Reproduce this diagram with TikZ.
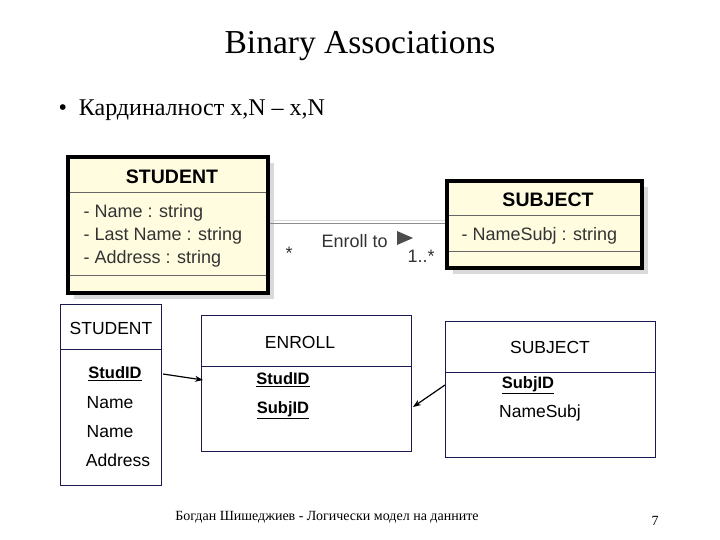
\documentclass[tikz,border=0pt]{standalone}
\usepackage{fontspec}
\setmainfont{Liberation Serif}
\setsansfont{Liberation Sans}
\usetikzlibrary{arrows.meta}
\definecolor{umlfill}{HTML}{FFFCE0}
\definecolor{boxline}{HTML}{1A1A50}
\tikzset{
  umlbox/.style={draw=black, line width=3.5pt, fill=umlfill},
  shadow/.style={fill=black!15, draw=none},
  tbl/.style={draw=boxline, line width=0.8pt},
  umltext/.style={font=\sffamily\fontsize{18}{20}\selectfont, text=black!80, anchor=west},
  tbltext/.style={font=\sffamily\fontsize{17.5}{20}\selectfont},
  key/.style={tbltext, font=\sffamily\bfseries\fontsize{16.5}{19}\selectfont},
  fk/.style={-{Stealth[length=8pt,width=6pt]}, line width=1.2pt},
}
\newcommand{\ul}[1]{\underline{#1}}
\begin{document}
\begin{tikzpicture}[x=1pt,y=-1pt]
  \useasboundingbox[fill=white] (0,0) rectangle (720,540);
  % title and bullet
  \node[font=\fontsize{33.5}{38}\selectfont] (title) at (360,46) {Binary Associations};
  \node[font=\fontsize{24}{28}\selectfont, anchor=west] (bullet) at (55,110) {•\ \ Кардиналност x,N – x,N};

  % UML classes
  \fill[shadow] (74,163) rectangle (274,299);
  \draw[umlbox] (68,157) rectangle (268,293);
  \draw[line width=1pt, black!60] (70,193) -- (266,193) (70,275) -- (266,275);
  \node[font=\sffamily\bfseries\fontsize{19.5}{22}\selectfont] (stuml) at (172,177) {STUDENT};
  \node[umltext] (a1) at (80,213) {- Name : string};
  \node[umltext] (a2) at (80,236) {- Last Name : string};
  \node[umltext] (a3) at (80,259) {- Address : string};

  \fill[shadow] (453,187) rectangle (648,274);
  \draw[umlbox] (447,181) rectangle (642,268);
  \draw[line width=1pt, black!60] (449,216) -- (640,216) (449,251) -- (640,251);
  \node[font=\sffamily\bfseries\fontsize{19.5}{22}\selectfont] (subuml) at (548,200) {SUBJECT};
  \node[umltext] (b1) at (458,236) {- NameSubj : string};

  % association
  \coordinate (asl) at (270,224);
  \coordinate (asr) at (445,224);
  \draw[black!45, line width=1pt] (asl) -- (asr);
  \draw[black!15, line width=1pt] ([yshift=3]asl) -- ([yshift=3]asr);
  \node[umltext] (rel) at (318,241) {Enroll to};
  \fill[black!70] (397,231) -- (413,238) -- (397,245) -- cycle;
  \node[umltext] (m1) at (282,253) {*};
  \node[umltext] (m2) at (404,256) {1..*};

  % tables
  \draw[tbl] (60,304) rectangle (161,485);
  \draw[tbl] (60,349) -- (161,349);
  \node[tbltext] (st) at (111,328) {STUDENT};
  \node[key] (stid) at (115,374) {\ul{StudID}};
  \node[tbltext] (stn1) at (110,403) {Name};
  \node[tbltext] (stn2) at (110,432) {Name};
  \node[tbltext] (sta) at (118,460) {Address};

  \draw[tbl] (201,315) rectangle (411,451);
  \draw[tbl] (201,366) -- (411,366);
  \node[tbltext] (en) at (300,342) {ENROLL};
  \node[key] (enst) at (283,380) {\ul{StudID}};
  \node[key] (ensu) at (283,410) {\ul{SubjID}};

  \draw[tbl] (445,321) rectangle (655,457);
  \draw[tbl] (445,372) -- (655,372);
  \node[tbltext] (su) at (550,347) {SUBJECT};
  \node[key] (suid) at (528,385) {\ul{SubjID}};
  \node[tbltext] (sun) at (540,413) {NameSubj};

  \coordinate (e1) at (203,380);
  \coordinate (e2) at (413,407);
  \draw[fk] (163,374) -- (e1);
  \draw[fk] (445,385) -- (e2);

  % footer
  \node[font=\fontsize{14}{16}\selectfont] (foot) at (327,517) {Богдан Шишеджиев - Логически модел на данните};
  \node[font=\fontsize{14}{16}\selectfont] (page) at (655,521) {7};
\end{tikzpicture}
\end{document}
